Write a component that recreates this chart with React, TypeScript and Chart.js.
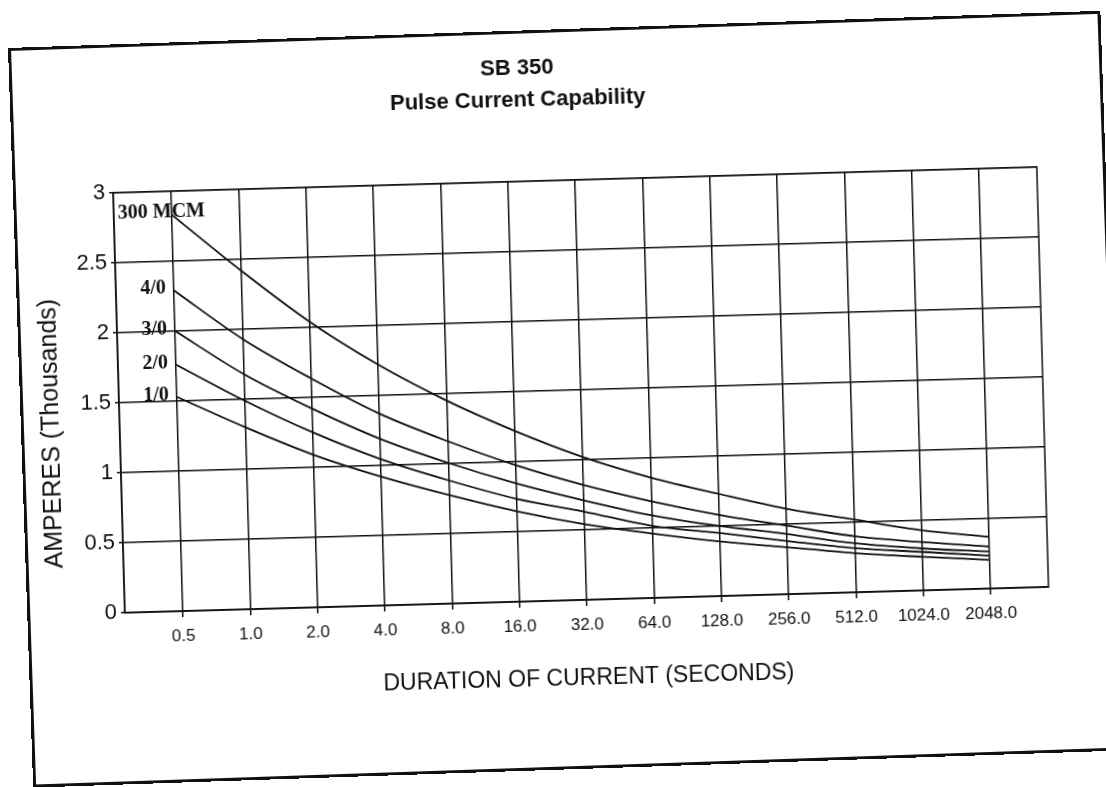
import React, { useEffect, useRef } from 'react';
import { Chart, registerables } from 'chart.js';

Chart.register(...registerables);

// ---- data ----
const durations = ['0.5', '1.0', '2.0', '4.0', '8.0', '16.0', '32.0', '64.0', '128.0', '256.0', '512.0', '1024.0', '2048.0'];
const seriesNames = ['300 MCM', '4/0', '3/0', '2/0', '1/0'];
const mcm300 = [2.83, 2.42, 2.04, 1.72, 1.45, 1.22, 1.02, 0.86, 0.73, 0.61, 0.52, 0.43, 0.37];
const awg40 = [2.29, 1.93, 1.635, 1.37, 1.16, 0.975, 0.82, 0.69, 0.58, 0.49, 0.4, 0.345, 0.3];
const awg30 = [2.0, 1.68, 1.42, 1.19, 1.005, 0.845, 0.71, 0.59, 0.5, 0.43, 0.35, 0.3, 0.265];
const awg20 = [1.76, 1.49, 1.25, 1.045, 0.88, 0.735, 0.63, 0.515, 0.45, 0.38, 0.315, 0.275, 0.235];
const awg10 = [1.53, 1.3, 1.09, 0.92, 0.775, 0.645, 0.54, 0.46, 0.39, 0.335, 0.28, 0.24, 0.205];
const yTickValues = [0, 0.5, 1, 1.5, 2, 2.5, 3];
const titleLines = ['SB 350', 'Pulse Current Capability'];
const xTitle = 'DURATION OF CURRENT (SECONDS)';
const yTitle = 'AMPERES (Thousands)';

const INK = '#111111';
const SANS = '"Liberation Sans", Arial, Helvetica, sans-serif';
const SERIF = '"Liberation Serif", "Times New Roman", Times, serif';

const W = 1060;
const H = 690;

const decorations = {
  id: 'decorations',
  afterDatasetsDraw(chart: any) {
    const ctx = chart.ctx;
    const area = chart.chartArea;
    ctx.save();
    // plot outline (right edge)
    ctx.strokeStyle = INK;
    ctx.lineWidth = 1.5;
    ctx.strokeRect(area.left, area.top, area.right - area.left, area.bottom - area.top);
    // curve labels
    ctx.font = 'bold 20px ' + SERIF;
    ctx.fillStyle = INK;
    ctx.textBaseline = 'middle';
    chart.data.datasets.forEach((ds: any, i: number) => {
      const pt = chart.getDatasetMeta(i).data[0];
      if (!pt) return;
      if (i === 0) {
        ctx.textAlign = 'left';
        ctx.fillText(ds.label, area.left + 4, pt.y - 3);
      } else {
        ctx.textAlign = 'right';
        ctx.fillText(ds.label, pt.x - 8, pt.y - 2);
      }
    });
    // y axis title (sits a little below the axis centre in the original)
    ctx.font = '25px ' + SANS;
    ctx.textAlign = 'center';
    ctx.textBaseline = 'middle';
    ctx.translate(42, (area.top + area.bottom) / 2 + 29);
    ctx.rotate(-Math.PI / 2);
    ctx.fillText(yTitle, 0, 0);
    ctx.restore();
  },
};

export default function App() {
  const ref = useRef<HTMLCanvasElement | null>(null);

  useEffect(() => {
    if (!ref.current) return;
    const series = [mcm300, awg40, awg30, awg20, awg10];
    const chart = new Chart(ref.current, {
      type: 'line',
      data: {
        datasets: series.map((vals, i) => ({
          label: seriesNames[i],
          data: vals.map((v, j) => ({ x: j, y: v })),
          borderColor: INK,
          borderWidth: 1.8,
          pointRadius: 0,
          fill: false,
          cubicInterpolationMode: 'monotone' as const,
        })),
      },
      options: {
        animation: false,
        responsive: false,
        devicePixelRatio: 1,
        layout: { padding: { left: 0, right: 26, top: 0, bottom: 20 } },
        plugins: {
          legend: { display: false },
          tooltip: { enabled: false },
          title: {
            display: true,
            text: titleLines,
            color: INK,
            font: { family: SANS, size: 22, weight: 'bold', lineHeight: 1.45 },
            padding: { top: 21, bottom: 65 },
          },
        },
        scales: {
          x: {
            type: 'linear',
            min: -0.862,
            max: 12.862,
            afterBuildTicks: (s: any) => {
              s.ticks = durations.map((_, i) => ({ value: i }));
            },
            afterFit: (s: any) => {
              s.height = 100;
            },
            ticks: {
              autoSkip: false,
              maxRotation: 0,
              color: INK,
              padding: 9,
              font: { family: SANS, size: 17 },
              callback: (v: any) => durations[v] ?? '',
            },
            grid: { color: INK, lineWidth: 1.5, tickLength: 6, drawTicks: true },
            border: { color: INK, width: 1.5 },
            title: {
              display: true,
              text: xTitle,
              color: INK,
              font: { family: SANS, size: 23 },
              padding: { top: 0, bottom: 8 },
            },
          },
          y: {
            type: 'linear',
            min: 0,
            max: 3,
            afterBuildTicks: (s: any) => {
              s.ticks = yTickValues.map((v) => ({ value: v }));
            },
            afterFit: (s: any) => {
              s.width = 110;
            },
            ticks: {
              color: INK,
              padding: 4,
              font: { family: SANS, size: 22 },
              callback: (v: any) => String(v),
            },
            grid: { color: INK, lineWidth: 1.5, tickLength: 4, drawTicks: true },
            border: { color: INK, width: 1.5 },
            title: { display: false },
          },
        },
      },
      plugins: [decorations],
    } as any);
    return () => chart.destroy();
  }, []);

  return (
    <div style={{ position: 'fixed', left: 0, top: 0, width: 1106, height: 787, background: '#fff', overflow: 'hidden' }}>
      <div
        style={{
          position: 'absolute',
          left: -1,
          top: 46,
          width: W,
          height: H,
          transformOrigin: '0 0',
          transform: 'rotate(-1.6deg)',
        }}
      >
        <canvas ref={ref} width={W} height={H} style={{ width: W, height: H, display: 'block' }} />
      </div>
      <div
        style={{
          position: 'absolute',
          left: 8,
          top: 48,
          width: 1093,
          height: 740,
          border: '3px solid #111',
          boxSizing: 'border-box',
          transformOrigin: '0 0',
          transform: 'rotate(-1.95deg)',
          pointerEvents: 'none',
        }}
      />
    </div>
  );
}
